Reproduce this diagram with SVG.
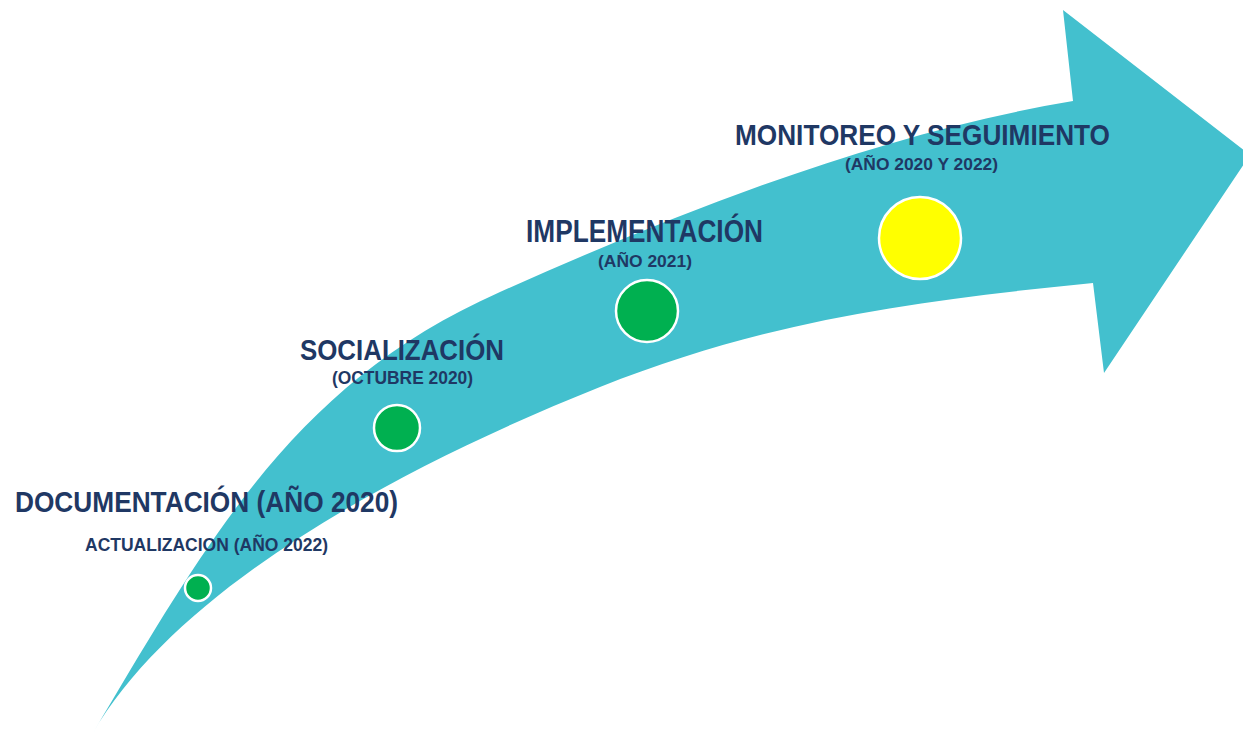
<svg xmlns="http://www.w3.org/2000/svg" width="1243" height="734" viewBox="0 0 1243 734">
  <style>
    .title { font-family: "Liberation Sans", Arial, sans-serif; font-weight: bold; fill: #1F3864; text-anchor: middle; }
    .dot { stroke: #FFFFFF; stroke-width: 2.5; }
    .green { fill: #00B050; }
    .yellow { fill: #FFFF00; }
  </style>
  <rect width="1243" height="734" fill="#FFFFFF"/>
  <g id="arrow">
    <path fill="#43C0CE" d="M93,733 C216,525 300,381 500,292 C690,207 883,133 1073,101 L1063,10 L1250,155 L1104,373 L1093,283 C923,300 770,319 600,387 C380,475 174,594 93,733 Z"/>
  </g>
  <g id="connectors"></g>
  <g id="node-documentacion">
    <circle class="dot green" cx="198" cy="588" r="13"/>
    <text class="title" x="206.5" y="512" font-size="30" textLength="383" lengthAdjust="spacingAndGlyphs">DOCUMENTACIÓN (AÑO 2020)</text>
    <text class="title" x="206.5" y="551" font-size="18" textLength="243" lengthAdjust="spacingAndGlyphs">ACTUALIZACION (AÑO 2022)</text>
  </g>
  <g id="node-socializacion">
    <circle class="dot green" cx="397" cy="428" r="23"/>
    <text class="title" x="402" y="360" font-size="30" textLength="204" lengthAdjust="spacingAndGlyphs">SOCIALIZACIÓN</text>
    <text class="title" x="402.5" y="384" font-size="18" textLength="141" lengthAdjust="spacingAndGlyphs">(OCTUBRE 2020)</text>
  </g>
  <g id="node-implementacion">
    <circle class="dot green" cx="647" cy="311" r="31"/>
    <text class="title" x="644.5" y="242" font-size="31" textLength="237" lengthAdjust="spacingAndGlyphs">IMPLEMENTACIÓN</text>
    <text class="title" x="645" y="267" font-size="17" textLength="94" lengthAdjust="spacingAndGlyphs">(AÑO 2021)</text>
  </g>
  <g id="node-monitoreo">
    <circle class="dot yellow" cx="920" cy="238" r="41"/>
    <text class="title" x="922.5" y="145" font-size="30" textLength="375" lengthAdjust="spacingAndGlyphs">MONITOREO Y SEGUIMIENTO</text>
    <text class="title" x="921.5" y="170" font-size="16" textLength="153" lengthAdjust="spacingAndGlyphs">(AÑO 2020 Y 2022)</text>
  </g>
</svg>
